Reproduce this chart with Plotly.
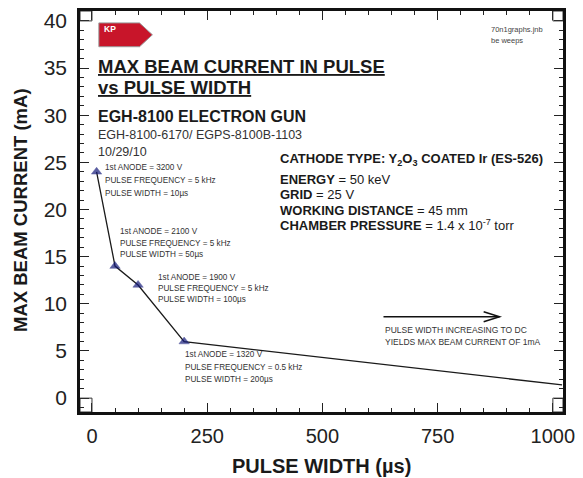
import plotly.graph_objects as go

# ---- data ----
pulse_width_us = [10, 50, 100, 200, 1020]
max_current_mA = [24, 14, 12, 6, 1.4]
marker_sizes = [9, 9, 9, 9, 0]

x_tick_vals = [0, 250, 500, 750, 1000]
y_tick_vals = [0, 5, 10, 15, 20, 25, 30, 35, 40]

point_notes = [
    ["1st ANODE = 3200 V", "PULSE FREQUENCY = 5 kHz", "PULSE WIDTH = 10µs"],
    ["1st ANODE = 2100 V", "PULSE FREQUENCY = 5 kHz", "PULSE WIDTH = 50µs"],
    ["1st ANODE = 1900 V", "PULSE FREQUENCY = 5 kHz", "PULSE WIDTH = 100µs"],
    ["1st ANODE = 1320 V", "PULSE FREQUENCY = 0.5 kHz", "PULSE WIDTH = 200µs"],
]
conditions = [
    "<b>CATHODE TYPE: Y<sub>2</sub>O<sub>3</sub> COATED Ir (ES-526)</b>",
    "<b>ENERGY</b> = 50 keV",
    "<b>GRID</b> = 25 V",
    "<b>WORKING DISTANCE</b> = 45 mm",
    "<b>CHAMBER PRESSURE</b> = 1.4 x 10<sup>-7</sup> torr",
]

W, H = 583, 478
L, R, T, B = 80, 16, 8, 66
PW, PH = W - L - R, H - T - B
XR = [-26, 1022]
YR = [-1.47, 41.05]
FONT = "Liberation Sans, Arial, sans-serif"


def px(x):
    return (x - L) / PW


def py(y):
    return (H - B - y) / PH


fig = go.Figure()
fig.add_trace(go.Scatter(
    x=pulse_width_us, y=max_current_mA, mode="lines+markers",
    line=dict(color="#1a1a1a", width=1.3),
    marker=dict(symbol="triangle-up", size=marker_sizes, color="#141a7a",
                line=dict(color="#141a7a", width=0.5)),
    showlegend=False, hoverinfo="x+y",
))

ann = []
# point notes
note_pos = [(103, 166, 12.8), (118, 230, 11.8), (157, 276, 11.2), (184, 354, 12.8)]
for lines, (x0, y0, dy) in zip(point_notes, note_pos):
    for i, t in enumerate(lines):
        ann.append(dict(x=px(x0), y=py(y0 + i * dy), text=t, xanchor="left", yanchor="middle",
                        font=dict(size=8.2, color="#333333", family=FONT)))

# conditions block
cond_y = [158, 178, 193, 209, 224]
for t, yy in zip(conditions, cond_y):
    ann.append(dict(x=px(280), y=py(yy), text=t, xanchor="left", yanchor="middle",
                    font=dict(size=13, color="#1a1a1a", family=FONT)))

# titles
ann += [
    dict(x=px(96), y=py(64), text="<b><u>MAX BEAM CURRENT IN PULSE</u></b>", xanchor="left", yanchor="middle",
         font=dict(size=18.5, color="#1a1a1a", family=FONT)),
    dict(x=px(96), y=py(85), text="<b><u>vs PULSE WIDTH</u></b>", xanchor="left", yanchor="middle",
         font=dict(size=18.5, color="#1a1a1a", family=FONT)),
    dict(x=px(96), y=py(114), text="<b>EGH-8100 ELECTRON GUN</b>", xanchor="left", yanchor="middle",
         font=dict(size=16, color="#1a1a1a", family=FONT)),
    dict(x=px(96), y=py(133), text="EGH-8100-6170/ EGPS-8100B-1103", xanchor="left", yanchor="middle",
         font=dict(size=12.5, color="#333333", family=FONT)),
    dict(x=px(96), y=py(150), text="10/29/10", xanchor="left", yanchor="middle",
         font=dict(size=12.5, color="#333333", family=FONT)),
    dict(x=px(492), y=py(27), text="70n1graphs.jnb", xanchor="left", yanchor="middle",
         font=dict(size=7.5, color="#444444", family=FONT)),
    dict(x=px(492), y=py(38), text="be weeps", xanchor="left", yanchor="middle",
         font=dict(size=7.5, color="#444444", family=FONT)),
    dict(x=px(386), y=py(329), text="PULSE WIDTH INCREASING TO DC", xanchor="left", yanchor="middle",
         font=dict(size=8.5, color="#333333", family=FONT)),
    dict(x=px(386), y=py(341), text="YIELDS MAX BEAM CURRENT OF 1mA", xanchor="left", yanchor="middle",
         font=dict(size=8.5, color="#333333", family=FONT)),
    # KP badge text
    dict(x=px(102), y=py(26), text="<b>KP</b>", xanchor="left", yanchor="middle",
         font=dict(size=8.5, color="white", family=FONT)),
    # axis titles
    dict(x=px(20), y=py(208), text="<b>MAX BEAM CURRENT (mA)</b>", textangle=-90,
         xanchor="center", yanchor="middle", font=dict(size=18.5, color="#1a1a1a", family=FONT)),
    dict(x=px(323), y=py(466), text="<b>PULSE WIDTH (µs)</b>",
         xanchor="center", yanchor="middle", font=dict(size=20, color="#1a1a1a", family=FONT)),
]
for a in ann:
    a.setdefault("xref", "paper")
    a.setdefault("yref", "paper")
    a.setdefault("showarrow", False)

shapes = [
    # KP badge
    dict(type="path", xref="paper", yref="paper",
         path=f"M {px(99)},{py(20)} L {px(140)},{py(20)} L {px(153)},{py(32)} "
              f"L {px(140)},{py(44)} L {px(99)},{py(44)} Z",
         fillcolor="#c8152a", line=dict(color="#999999", width=1)),
    # arrow (line + open chevron)
    dict(type="line", xref="paper", yref="paper", x0=px(386), x1=px(503), y0=py(316), y1=py(316),
         line=dict(color="#111111", width=1.5)),
    dict(type="path", xref="paper", yref="paper",
         path=f"M {px(487)},{py(311)} L {px(503)},{py(316)} L {px(487)},{py(321)}",
         line=dict(color="#111111", width=1.5)),
    # corner boxes
    dict(type="rect", xref="x", yref="y", x0=XR[0], x1=0, y0=YR[0], y1=0, line=dict(color="#333", width=1)),
    dict(type="rect", xref="x", yref="y", x0=1000, x1=XR[1], y0=YR[0], y1=0, line=dict(color="#333", width=1)),
    dict(type="rect", xref="x", yref="y", x0=XR[0], x1=0, y0=40, y1=YR[1], line=dict(color="#333", width=1)),
    dict(type="rect", xref="x", yref="y", x0=1000, x1=XR[1], y0=40, y1=YR[1], line=dict(color="#333", width=1)),
]

fig.update_layout(
    width=W, height=H,
    margin=dict(l=L, r=R, t=T, b=B),
    paper_bgcolor="white", plot_bgcolor="white",
    font=dict(family=FONT, color="#222222"),
    annotations=ann, shapes=shapes,
    xaxis=dict(range=XR, tickvals=x_tick_vals, ticks="inside", ticklen=9, tickwidth=1,
               tickcolor="#222", showline=True, linecolor="#111", linewidth=2.5, mirror="ticks",
               showgrid=False, zeroline=False, tickfont=dict(size=20, color="#222"),
               ticklabelstandoff=4,
               minor=dict(dtick=50, tick0=0, ticks="inside", ticklen=4, tickcolor="#222", showgrid=False)),
    yaxis=dict(range=YR, tickvals=y_tick_vals, ticks="inside", ticklen=9, tickwidth=1,
               tickcolor="#222", showline=True, linecolor="#111", linewidth=2.5, mirror="ticks",
               showgrid=False, zeroline=False, tickfont=dict(size=21, color="#222"),
               ticklabelstandoff=6,
               minor=dict(dtick=1, tick0=0, ticks="inside", ticklen=4, tickcolor="#222", showgrid=False)),
)

fig.write_html(
    "out.html",
    config={"displayModeBar": False},
    post_script="document.body.style.margin='0';document.body.style.overflow='hidden';",
)
